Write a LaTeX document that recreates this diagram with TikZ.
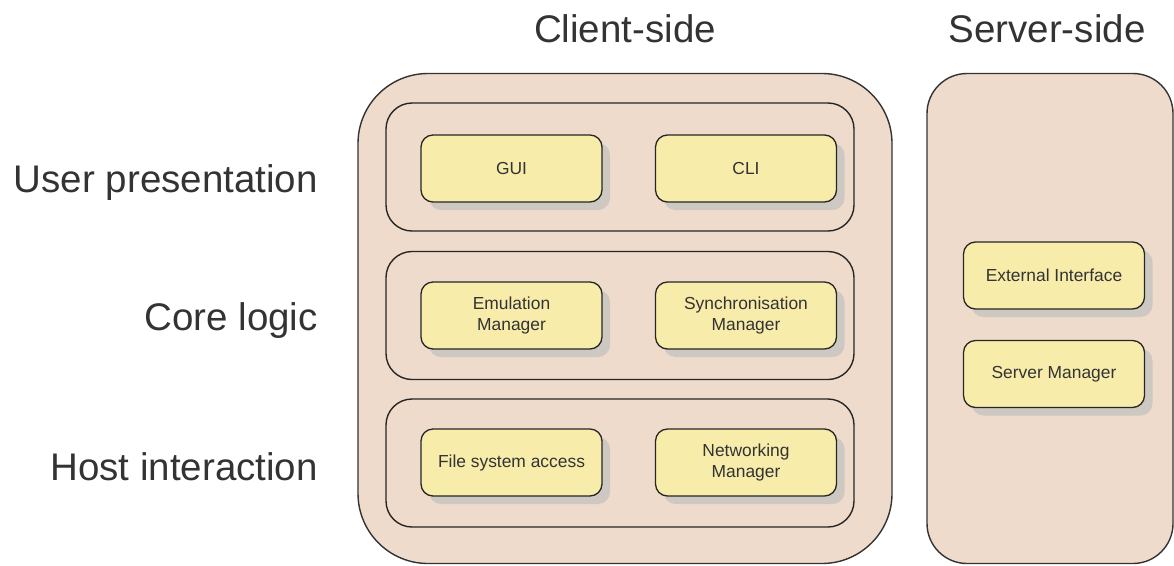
\documentclass[tikz,border=0pt]{standalone}
\usepackage{fontspec}
\setmainfont{Liberation Sans}
\usepackage{tikz}
\usetikzlibrary{positioning,calc,shadows}

\definecolor{sidefill}{RGB}{239,219,203}
\definecolor{compfill}{RGB}{247,236,170}
\definecolor{shadowgray}{RGB}{206,200,194}
\definecolor{inkgray}{RGB}{51,51,51}

\begin{document}
\begin{tikzpicture}[x=1pt, y=-1pt,
		side/.style={draw=inkgray, line width=1.4pt, fill=sidefill, rectangle},
		layer/.style={draw=black!85, line width=1.4pt, rounded corners=26pt, minimum width=468pt, minimum height=128pt},
		comp/.style={draw=black!85, line width=1.3pt, fill=compfill, rounded corners=12pt, minimum width=181pt, minimum height=67pt, align=center, text=inkgray, font=\fontsize{17.4}{20.5}\selectfont, drop shadow={shadow xshift=8pt, shadow yshift=-8pt, fill=shadowgray, opacity=1}},
		heading/.style={text=inkgray, font=\fontsize{38.5}{44}\selectfont, inner sep=0pt}]
		\useasboundingbox (0,0) rectangle (1174,565);
		% the two sides
		\node[side, rounded corners=70pt, minimum width=534pt, minimum height=490pt] (Client) at (625,318.5) {};
		\node[side, rounded corners=40pt, minimum width=246pt, minimum height=490pt] (Server) at (1050,318.5) {};
		\node[heading] (ClientTitle) at (625,29) {Client-side};
		\node[heading] (ServerTitle) at (1047,29) {Server-side};
		% layers of the client
		\node[layer] (Pres) at (620,167) {};
		\node[layer] (Core) at (620,315.5) {};
		\node[layer] (Host) at (620,463) {};
		\node[heading, anchor=east] (PresLabel) at (318,183) {User presentation};
		\node[heading, anchor=east] (CoreLabel) at (318,321) {Core logic};
		\node[heading, anchor=east] (HostLabel) at (318,467) {Host interaction};
		% components
		\node[comp] (GUI) at ([xshift=-108.5pt, yshift=-1.5pt]Pres.center) {GUI};
		\node[comp] (CLI) at ([xshift=126pt, yshift=-1.5pt]Pres.center) {CLI};
		\node[comp] (Emu) at ([xshift=-108.5pt]Core.center) {Emulation\\Manager};
		\node[comp] (Sync) at ([xshift=126pt]Core.center) {Synchronisation\\Manager};
		\node[comp] (Files) at ([xshift=-108.5pt, yshift=0.5pt]Host.center) {File system access};
		\node[comp] (Net) at ([xshift=126pt, yshift=0.5pt]Host.center) {Networking\\Manager};
		\node[comp] (Ext) at (1054,275.5) {External Interface};
		\node[comp] (SrvMgr) at (1054,374) {Server Manager};
	\end{tikzpicture}
\end{document}
